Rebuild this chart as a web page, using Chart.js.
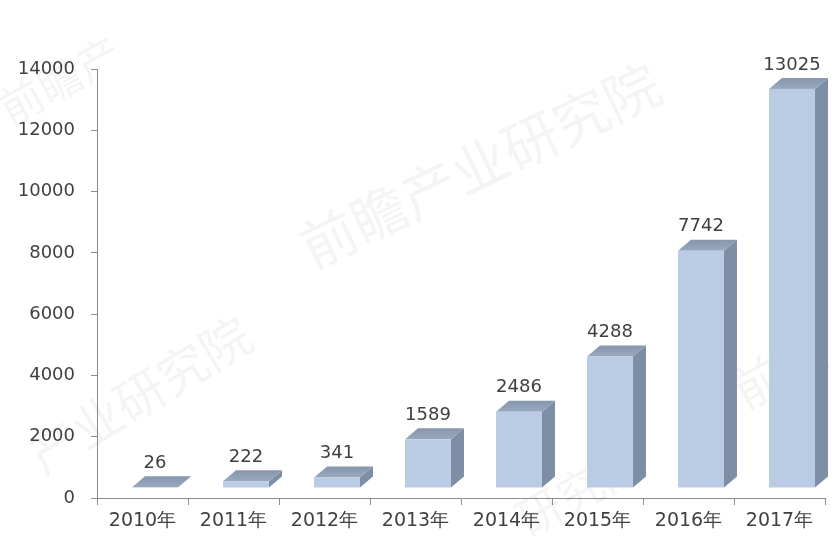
<!DOCTYPE html>
<html>
<head>
<meta charset="utf-8">
<script src="https://cdn.jsdelivr.net/npm/chart.js@4"></script>
<style>
  html, body { margin: 0; padding: 0; background: #ffffff; }
  #wrap { width: 835px; height: 541px; }
</style>
</head>
<body>
<div id="wrap"><canvas id="chart" width="835" height="541"></canvas></div>
<script>
const years = ["2010年", "2011年", "2012年", "2013年", "2014年", "2015年", "2016年", "2017年"];
const counts = [26, 222, 341, 1589, 2486, 4288, 7742, 13025];
const yMax = 14000;
const yStep = 2000;

const textColor = "#404040";
const axisColor = "#8c8c8c";

// fake 3d box: front face pushed right and up, depth goes back/up-right
const SHIFT_X = 12.5;
const LIFT = 10;
const DEPTH_X = 13;
const DEPTH_Y = -11;

const watermark = {
    id: "watermark",
    beforeDatasetsDraw(chart) {
        const ctx = chart.ctx;
        const marks = [
            { text: "前瞻产业研究院", x: 480, y: 165, size: 56, a: -0.45 },
            { text: "产业研究院", x: 140, y: 395, size: 50, a: -0.55 },
            { text: "前瞻产", x: 60, y: 80, size: 44, a: -0.5 },
            { text: "研究院", x: 580, y: 490, size: 46, a: -0.5 },
            { text: "前瞻", x: 780, y: 370, size: 50, a: -0.5 }
        ];
        ctx.save();
        ctx.fillStyle = "rgba(0,0,0,0.045)";
        ctx.textAlign = "center";
        ctx.textBaseline = "middle";
        marks.forEach(m => {
            ctx.save();
            ctx.translate(m.x, m.y);
            ctx.rotate(m.a);
            ctx.font = m.size + "px 'Noto Sans CJK SC'";
            ctx.fillText(m.text, 0, 0);
            ctx.restore();
        });
        ctx.restore();
    }
};

const boxes = {
    id: "boxes",
    afterDatasetsDraw(chart) {
        const ctx = chart.ctx;
        const meta = chart.getDatasetMeta(0);
        ctx.save();
        meta.data.forEach((bar, i) => {
            const p = bar.getProps(["x", "y", "base", "width"], true);
            const left = p.x - p.width / 2 + SHIFT_X;
            const right = left + p.width;
            const top = p.y - LIFT;
            const bottom = p.base - LIFT;

            // side
            ctx.fillStyle = "#7d8ea5";
            ctx.beginPath();
            ctx.moveTo(right, top);
            ctx.lineTo(right + DEPTH_X, top + DEPTH_Y);
            ctx.lineTo(right + DEPTH_X, bottom + DEPTH_Y);
            ctx.lineTo(right, bottom);
            ctx.closePath();
            ctx.fill();

            // top
            const g = ctx.createLinearGradient(0, top + DEPTH_Y, 0, top);
            g.addColorStop(0, "#8596ad");
            g.addColorStop(1, "#98a9bf");
            ctx.fillStyle = g;
            ctx.beginPath();
            ctx.moveTo(left, top);
            ctx.lineTo(left + DEPTH_X, top + DEPTH_Y);
            ctx.lineTo(right + DEPTH_X, top + DEPTH_Y);
            ctx.lineTo(right, top);
            ctx.closePath();
            ctx.fill();

            // front
            ctx.fillStyle = "#b9cce4";
            ctx.fillRect(left, top, p.width, bottom - top);

            // value label
            ctx.fillStyle = textColor;
            ctx.font = "18px 'DejaVu Sans'";
            ctx.textAlign = "center";
            ctx.textBaseline = "middle";
            ctx.fillText(String(counts[i]), left + p.width / 2, top + DEPTH_Y - 13);
        });
        ctx.restore();
    }
};

new Chart(document.getElementById("chart").getContext("2d"), {
    type: "bar",
    data: {
        labels: years,
        datasets: [{
            data: counts,
            backgroundColor: "rgba(0,0,0,0)",
            borderWidth: 0,
            categoryPercentage: 1,
            barPercentage: 0.505
        }]
    },
    options: {
        responsive: false,
        animation: false,
        layout: { padding: { top: 69, right: 10, left: 0, bottom: 0 } },
        plugins: {
            legend: { display: false },
            tooltip: { enabled: false }
        },
        scales: {
            x: {
                grid: { offset: true, drawOnChartArea: false, tickLength: 7, color: axisColor },
                border: { color: axisColor },
                ticks: { color: textColor, font: { family: "'DejaVu Sans'", size: 19 }, padding: 5, maxRotation: 0 },
                afterFit: s => { s.height = 43; }
            },
            y: {
                min: 0,
                max: yMax,
                grid: { drawOnChartArea: false, tickLength: 6, color: axisColor },
                border: { color: axisColor },
                ticks: {
                    stepSize: yStep,
                    color: textColor,
                    font: { family: "'DejaVu Sans'", size: 18 },
                    padding: 16,
                    callback: v => String(v)
                },
                afterFit: s => { s.width = 97; }
            }
        }
    },
    plugins: [watermark, boxes]
});
</script>
</body>
</html>
